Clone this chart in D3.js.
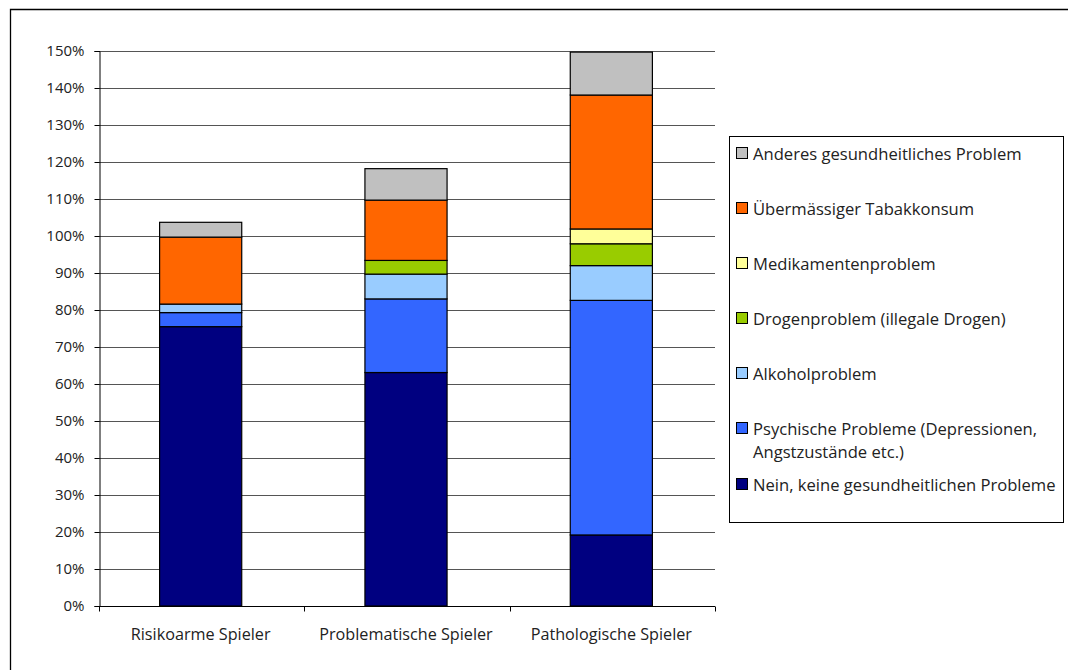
<!DOCTYPE html>
<html>
<head>
<meta charset="utf-8">
<script src="https://cdn.jsdelivr.net/npm/d3@7"></script>
<style>
	body { margin: 0; background: #fff; }
	text { font-family: "Open Sans", "DejaVu Sans", sans-serif; fill: #222; }
</style>
</head>
<body>
<svg id="chart" width="1068" height="670"></svg>
<script>
// categories (x axis)
var categories = ["Risikoarme Spieler", "Problematische Spieler", "Pathologische Spieler"];

// series, bottom to top of the stack (values in %)
var seriesNames = [
	"Nein, keine gesundheitlichen Probleme",
	"Psychische Probleme (Depressionen, Angstzustände etc.)",
	"Alkoholproblem",
	"Drogenproblem (illegale Drogen)",
	"Medikamentenproblem",
	"Übermässiger Tabakkonsum",
	"Anderes gesundheitliches Problem"
];
var nein     = [75.5, 63.1, 19.2];
var psychisch = [3.8, 19.9, 63.4];
var alkohol  = [2.3, 6.7, 9.4];
var drogen   = [0, 3.7, 5.9];
var medikam  = [0, 0, 4.0];
var tabak    = [18.1, 16.3, 36.2];
var anderes  = [4.0, 8.5, 11.6];
var seriesColors = ["#000080", "#3366ff", "#99ccff", "#99cc00", "#ffff99", "#ff6600", "#c0c0c0"];

var yTicks = d3.range(0, 151, 10);

var svg = d3.select("#chart");
var margin = {left: 99, top: 51, right: 715, bottom: 606};

// outer frame (top + left only visible)
svg.append("path")
	.attr("d", "M10.5,670 L10.5,9.5 L1068,9.5")
	.attr("fill", "none")
	.attr("stroke", "#000")
	.attr("stroke-width", 1.3);

var x = d3.scaleBand()
	.domain(categories)
	.range([margin.left - 1, margin.right - 1])
	.paddingInner(0.6)
	.paddingOuter(0.3);

var y = d3.scaleLinear()
	.domain([0, 150])
	.range([margin.bottom, margin.top]);

// gridlines
svg.append("g")
	.selectAll("line")
	.data(yTicks.filter(function(d) { return d > 0; }))
	.enter().append("line")
		.attr("x1", margin.left)
		.attr("x2", margin.right)
		.attr("y1", function(d) { return Math.round(y(d)) + 0.5; })
		.attr("y2", function(d) { return Math.round(y(d)) + 0.5; })
		.attr("stroke", "#555")
		.attr("stroke-width", 1);

// stack data
var rows = categories.map(function(c, i) {
	return {cat: c, s0: nein[i], s1: psychisch[i], s2: alkohol[i], s3: drogen[i], s4: medikam[i], s5: tabak[i], s6: anderes[i]};
});
var keys = ["s0", "s1", "s2", "s3", "s4", "s5", "s6"];
var stacked = d3.stack().keys(keys)(rows);

svg.append("g")
	.selectAll("g")
	.data(stacked)
	.enter().append("g")
		.attr("fill", function(d, i) { return seriesColors[i]; })
	.selectAll("rect")
	.data(function(d) { return d.filter(function(p) { return p[1] - p[0] > 0; }); })
	.enter().append("rect")
		.attr("x", function(d) { return x(d.data.cat); })
		.attr("width", x.bandwidth())
		.attr("y", function(d) { return y(d[1]); })
		.attr("height", function(d) { return y(d[0]) - y(d[1]); })
		.attr("stroke", "#000")
		.attr("stroke-width", 1.2);

// y axis
var yAxis = d3.axisLeft(y)
	.tickValues(yTicks)
	.tickFormat(function(d) { return d + "%"; })
	.tickSize(5)
	.tickPadding(10);
var gy = svg.append("g")
	.attr("transform", "translate(" + (margin.left + 0.5) + ",0)")
	.call(yAxis);
gy.select(".domain").attr("stroke", "#000");
gy.selectAll(".tick line").attr("stroke", "#000");
gy.selectAll("text").attr("font-size", 15).attr("fill", "#222");

// x axis
var gx = svg.append("g")
	.attr("transform", "translate(0," + (margin.bottom + 0.5) + ")");
gx.append("line")
	.attr("x1", margin.left).attr("x2", margin.right)
	.attr("y1", 0).attr("y2", 0)
	.attr("stroke", "#000");
var bounds = d3.range(categories.length + 1).map(function(i) { return margin.left + i * (margin.right - margin.left) / categories.length; });
gx.selectAll("line.tk")
	.data(bounds)
	.enter().append("line")
		.attr("class", "tk")
		.attr("x1", function(d) { return Math.round(d) + 0.5; })
		.attr("x2", function(d) { return Math.round(d) + 0.5; })
		.attr("y1", 0).attr("y2", 5)
		.attr("stroke", "#000");
gx.selectAll("text")
	.data(categories)
	.enter().append("text")
		.attr("x", function(d) { return x(d) + x.bandwidth() / 2; })
		.attr("y", 33)
		.attr("text-anchor", "middle")
		.attr("font-size", 16.2)
		.text(function(d) { return d; });

// legend
var legend = svg.append("g");
legend.append("rect")
	.attr("x", 729.5).attr("y", 136.5)
	.attr("width", 334).attr("height", 386)
	.attr("fill", "#fff")
	.attr("stroke", "#000");

var legendY = [154, 209, 264, 319, 374, 429, 485];
var order = d3.range(seriesNames.length).reverse();
order.forEach(function(si, k) {
	var yy = legendY[k];
	legend.append("rect")
		.attr("x", 736.5).attr("y", yy - 6.5)
		.attr("width", 11).attr("height", 11)
		.attr("fill", seriesColors[si])
		.attr("stroke", "#000");
	var t = legend.append("text")
		.attr("x", 753)
		.attr("y", yy + 5.5)
		.attr("font-size", 16.6);
	if (si === 1) {
		t.append("tspan").text("Psychische Probleme (Depressionen,");
		t.append("tspan").attr("x", 753).attr("dy", 23).text("Angstzustände etc.)");
	} else {
		t.text(seriesNames[si]);
	}
});
</script>
</body>
</html>
